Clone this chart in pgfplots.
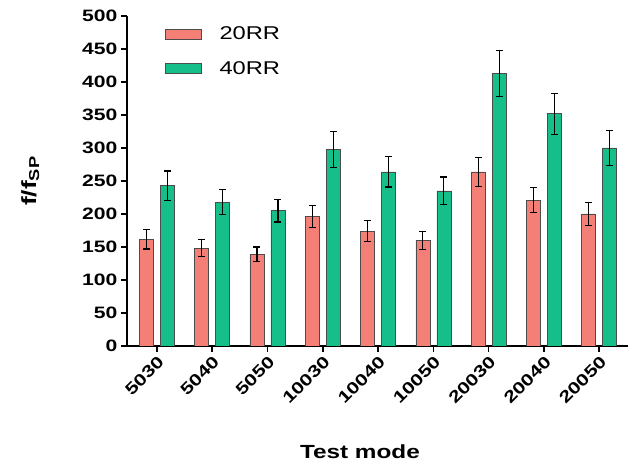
\documentclass[border=0pt]{standalone}
\usepackage{fontspec}
\setmainfont{Liberation Sans}[FakeStretch=1.28]
\usepackage{pgfplots}
\pgfplotsset{compat=1.18}
\definecolor{rr20}{HTML}{F47F77}
\definecolor{rr40}{HTML}{16BE8A}
\begin{document}
\begin{tikzpicture}
  \begin{axis}[
      scale only axis,
      width=501pt, height=330pt,
      ybar=7pt, bar width=14pt,
      xmin=-0.54, xmax=8.52,
      ymin=0, ymax=500,
      ytick={0,50,...,500},
      xtick={0,...,8},
      xticklabels={5030,5040,5050,10030,10040,10050,20030,20040,20050},
      axis x line*=bottom, axis y line*=left,
      axis line style={line width=1.6pt},
      tick style={line width=1.6pt, black},
      major tick length=6pt,
      tick align=outside,
      /pgf/number format/assume math mode=true,
      ticklabel style={font=\fontsize{16.5}{19}\selectfont\bfseries},
      x tick label style={rotate=45, anchor=north east, inner sep=2pt},
      xlabel={Test mode},
      xlabel style={font=\fontsize{19}{22}\selectfont\bfseries,
        at={(axis description cs:0.465,-0.32)}, anchor=center},
      ylabel={f/f\textsubscript{SP}},
      ylabel style={font=\fontsize{20.5}{23}\selectfont\bfseries,
        at={(axis description cs:-0.193,0.5)}, anchor=center},
      legend style={at={(axis description cs:0.07,0.98)}, anchor=north west,
        draw=none, fill=none, font=\fontsize{18.5}{21}\selectfont,
        row sep=16pt},
      legend image code/.code={
        \draw[#1, draw=gray!60!black, line width=0.5pt] (0pt,-5pt) rectangle (36pt,5pt);
        \path[draw=none, fill=none] (36pt,0pt) -- (52pt,0pt);
      },
      legend cell align=left,
      error bars/y dir=both,
      error bars/y explicit,
      error bars/error bar style={black, line width=1.2pt},
      error bars/error mark options={rotate=90, mark size=3.5pt, line width=1.2pt, black},
    ]
    \addplot[fill=rr20, draw=gray!60!black, line width=0.5pt] coordinates {
        (0,162) +- (0,15)
        (1,148) +- (0,13)
        (2,139) +- (0,11)
        (3,196) +- (0,17)
        (4,174) +- (0,16)
        (5,160) +- (0,14)
        (6,264) +- (0,22)
        (7,221) +- (0,19)
        (8,200) +- (0,17)
      };
    \addplot[fill=rr40, draw=gray!60!black, line width=0.5pt] coordinates {
        (0,243) +- (0,22)
        (1,218) +- (0,19)
        (2,205) +- (0,17)
        (3,298) +- (0,27)
        (4,264) +- (0,23)
        (5,235) +- (0,21)
        (6,413) +- (0,35)
        (7,352) +- (0,31)
        (8,300) +- (0,27)
      };
    \legend{20RR,40RR}
  \end{axis}
  \pgfresetboundingbox
  \useasboundingbox ([xshift=-127pt,yshift=-120pt]current axis.south west)
    rectangle ([xshift=4pt,yshift=16pt]current axis.north east);
\end{tikzpicture}
\end{document}
